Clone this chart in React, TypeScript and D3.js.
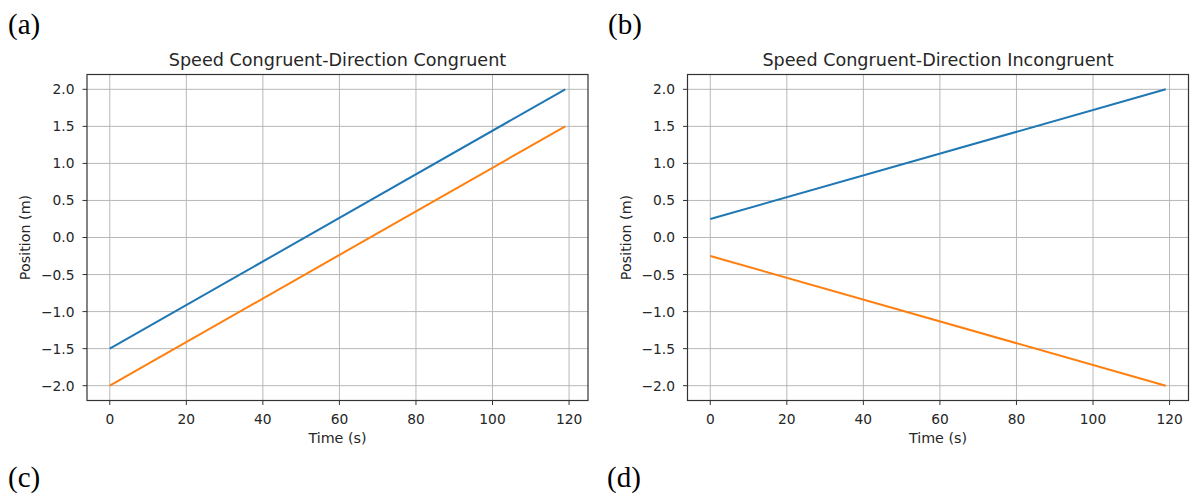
import React from "react";
import * as d3 from "d3";

const timeSeconds = [0, 119];
const panelATitle = "Speed Congruent-Direction Congruent";
const panelBTitle = "Speed Congruent-Direction Incongruent";
const panelABlue = [-1.5, 2.0];
const panelAOrange = [-2.0, 1.5];
const panelBBlue = [0.25, 2.0];
const panelBOrange = [-0.25, -2.0];
const xTicks = [0, 20, 40, 60, 80, 100, 120];
const yTicks = [-2.0, -1.5, -1.0, -0.5, 0.0, 0.5, 1.0, 1.5, 2.0];
const panelLetters = ["(a)", "(b)", "(c)", "(d)"];

const FONT = "DejaVu Sans, sans-serif";
const BLUE = "#1f77b4";
const ORANGE = "#ff7f0e";
const INK = "#262626";

type PanelProps = {
  left: number;
  right: number;
  top: number;
  bottom: number;
  title: string;
  blue: number[];
  orange: number[];
};

function fmt(v: number) {
  const s = v.toFixed(1);
  return s.startsWith("-") ? "\u2212" + s.slice(1) : s;
}

function Panel({ left, right, top, bottom, title, blue, orange }: PanelProps) {
  const x = d3.scaleLinear().domain([-5.95, 124.95]).range([left, right]);
  const y = d3.scaleLinear().domain([-2.2, 2.2]).range([bottom, top]);
  const line = d3
    .line<number>()
    .x((_, i) => x(timeSeconds[i]))
    .y((d) => y(d));
  const cx = (left + right) / 2;
  const cy = (top + bottom) / 2;
  return (
    <g>
      {xTicks.map((t) => (
        <line key={"gx" + t} x1={x(t)} x2={x(t)} y1={top} y2={bottom} stroke="#b8b8b8" strokeWidth={1} />
      ))}
      {yTicks.map((t) => (
        <line key={"gy" + t} x1={left} x2={right} y1={y(t)} y2={y(t)} stroke="#b8b8b8" strokeWidth={1} />
      ))}
      <path d={line(blue) || ""} fill="none" stroke={BLUE} strokeWidth={2} />
      <path d={line(orange) || ""} fill="none" stroke={ORANGE} strokeWidth={2} />
      <rect x={left} y={top} width={right - left} height={bottom - top} fill="none" stroke="#333" strokeWidth={1.2} />
      {xTicks.map((t) => (
        <g key={"tx" + t}>
          <line x1={x(t)} x2={x(t)} y1={bottom} y2={bottom + 4.5} stroke="#333" strokeWidth={1} />
          <text x={x(t)} y={bottom + 23} textAnchor="middle" fontFamily={FONT} fontSize={13.8} fill={INK}>
            {t}
          </text>
        </g>
      ))}
      {yTicks.map((t) => (
        <g key={"ty" + t}>
          <line x1={left - 4.5} x2={left} y1={y(t)} y2={y(t)} stroke="#333" strokeWidth={1} />
          <text x={left - 12.5} y={y(t)} dy="0.36em" textAnchor="end" fontFamily={FONT} fontSize={13.8} fill={INK}>
            {fmt(t)}
          </text>
        </g>
      ))}
      <text x={cx} y={top - 8.5} textAnchor="middle" fontFamily={FONT} fontSize={17.6} fill={INK}>
        {title}
      </text>
      <text x={cx} y={bottom + 42.5} textAnchor="middle" fontFamily={FONT} fontSize={14.3} fill={INK}>
        Time (s)
      </text>
      <text
        transform={`translate(${left - 57},${cy}) rotate(-90)`}
        textAnchor="middle"
        fontFamily={FONT}
        fontSize={14.3}
        fill={INK}
      >
        Position (m)
      </text>
    </g>
  );
}

export default function App() {
  const letterPos = [
    [8, 34],
    [608, 34],
    [8, 487],
    [607, 487],
  ];
  return (
    <svg width={1192} height={498} style={{ position: "absolute", left: 0, top: 0, background: "#fff" }}>
      <rect x={0} y={0} width={1192} height={498} fill="#fff" />
      <Panel left={87} right={588} top={74.5} bottom={400.5} title={panelATitle} blue={panelABlue} orange={panelAOrange} />
      <Panel left={687.5} right={1188.5} top={74.5} bottom={400.5} title={panelBTitle} blue={panelBBlue} orange={panelBOrange} />
      {panelLetters.map((l, i) => (
        <text key={l} x={letterPos[i][0]} y={letterPos[i][1]} fontFamily="Liberation Serif, Times New Roman, serif" fontSize={29} fill="#000">
          {l}
        </text>
      ))}
    </svg>
  );
}
